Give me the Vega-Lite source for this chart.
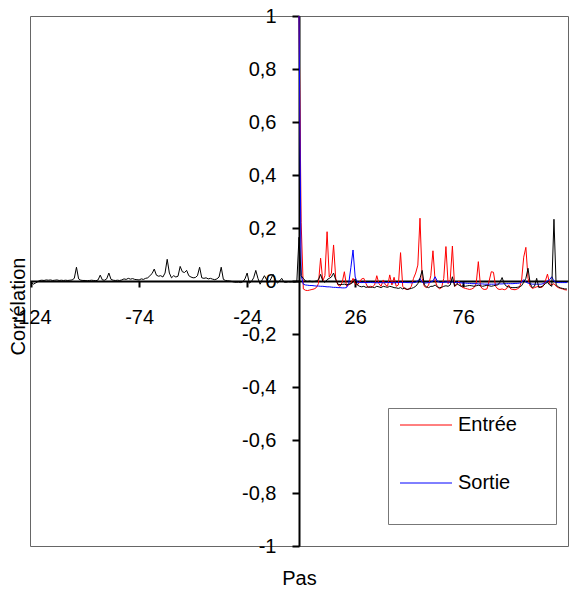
{
  "$schema": "https://vega.github.io/schema/vega-lite/v6.json",
  "width": 538,
  "height": 530,
  "autosize": "none",
  "padding": {"left": 30, "top": 16, "right": 5, "bottom": 49},
  "config": {
    "locale": {"number": {"decimal": ",", "thousands": " ", "grouping": [3], "currency": ["", " €"], "minus": "-"}},
    "view": {"stroke": "#666666", "strokeWidth": 1},
    "font": "Liberation Sans",
    "axis": {"labelFont": "Liberation Sans", "titleFont": "Liberation Sans", "labelFontSize": 20, "titleFontSize": 20, "titleFontWeight": "normal", "labelColor": "#000000", "titleColor": "#000000", "grid": false, "domainColor": "#000000", "domainWidth": 2, "tickColor": "#000000", "tickWidth": 2}
  },
  "datasets": {
    "cross": [
      {"lag": -124, "r": -0.005}, {"lag": -123, "r": -0.012}, {"lag": -122, "r": -0.008}, {"lag": -121, "r": -0.003},
      {"lag": -120, "r": 0.002}, {"lag": -119, "r": 0.003}, {"lag": -118, "r": 0.002}, {"lag": -117, "r": 0.004},
      {"lag": -116, "r": 0.003}, {"lag": -115, "r": 0.004}, {"lag": -114, "r": 0.002}, {"lag": -113, "r": 0.003},
      {"lag": -112, "r": 0.004}, {"lag": -111, "r": 0.002}, {"lag": -110, "r": 0.003}, {"lag": -109, "r": 0.002},
      {"lag": -108, "r": 0.003}, {"lag": -107, "r": 0.002}, {"lag": -106, "r": 0.003}, {"lag": -105, "r": 0.004},
      {"lag": -104, "r": 0.01}, {"lag": -103, "r": 0.052}, {"lag": -102, "r": 0.008}, {"lag": -101, "r": 0.003},
      {"lag": -100, "r": 0.002}, {"lag": -99, "r": 0.002}, {"lag": -98, "r": 0.001}, {"lag": -97, "r": 0.002},
      {"lag": -96, "r": 0.003}, {"lag": -95, "r": 0.002}, {"lag": -94, "r": 0.001}, {"lag": -93, "r": 0.004},
      {"lag": -92, "r": 0.022}, {"lag": -91, "r": 0.004}, {"lag": -90, "r": 0.003}, {"lag": -89, "r": 0.008},
      {"lag": -88, "r": 0.03}, {"lag": -87, "r": 0.006}, {"lag": -86, "r": 0.003}, {"lag": -85, "r": 0.002},
      {"lag": -84, "r": 0.003}, {"lag": -83, "r": 0.002}, {"lag": -82, "r": 0.004}, {"lag": -81, "r": 0.008},
      {"lag": -80, "r": 0.006}, {"lag": -79, "r": 0.01}, {"lag": -78, "r": 0.007}, {"lag": -77, "r": 0.009},
      {"lag": -76, "r": 0.006}, {"lag": -75, "r": 0.005}, {"lag": -74, "r": 0.004}, {"lag": -73, "r": 0.008},
      {"lag": -72, "r": 0.006}, {"lag": -71, "r": 0.01}, {"lag": -70, "r": 0.012}, {"lag": -69, "r": 0.02},
      {"lag": -68, "r": 0.028}, {"lag": -67, "r": 0.045}, {"lag": -66, "r": 0.022}, {"lag": -65, "r": 0.018},
      {"lag": -64, "r": 0.02}, {"lag": -63, "r": 0.015}, {"lag": -62, "r": 0.03}, {"lag": -61, "r": 0.082},
      {"lag": -60, "r": 0.03}, {"lag": -59, "r": 0.012}, {"lag": -58, "r": 0.02}, {"lag": -57, "r": 0.015},
      {"lag": -56, "r": 0.018}, {"lag": -55, "r": 0.055}, {"lag": -54, "r": 0.035}, {"lag": -53, "r": 0.032},
      {"lag": -52, "r": 0.04}, {"lag": -51, "r": 0.02}, {"lag": -50, "r": 0.015}, {"lag": -49, "r": 0.012},
      {"lag": -48, "r": 0.013}, {"lag": -47, "r": 0.02}, {"lag": -46, "r": 0.052}, {"lag": -45, "r": 0.012},
      {"lag": -44, "r": 0.01}, {"lag": -43, "r": 0.012}, {"lag": -42, "r": 0.008}, {"lag": -41, "r": 0.01},
      {"lag": -40, "r": 0.007}, {"lag": -39, "r": 0.005}, {"lag": -38, "r": 0.008}, {"lag": -37, "r": 0.015},
      {"lag": -36, "r": 0.052}, {"lag": -35, "r": 0.006}, {"lag": -34, "r": 0.002}, {"lag": -33, "r": 0.001},
      {"lag": -32, "r": 0.0}, {"lag": -31, "r": -0.002}, {"lag": -30, "r": -0.004}, {"lag": -29, "r": -0.005},
      {"lag": -28, "r": -0.004}, {"lag": -27, "r": -0.006}, {"lag": -26, "r": -0.003}, {"lag": -25, "r": 0.008},
      {"lag": -24, "r": 0.03}, {"lag": -23, "r": -0.008}, {"lag": -22, "r": -0.002}, {"lag": -21, "r": 0.012},
      {"lag": -20, "r": 0.04}, {"lag": -19, "r": 0.01}, {"lag": -18, "r": -0.012}, {"lag": -17, "r": 0.005},
      {"lag": -16, "r": 0.02}, {"lag": -15, "r": 0.005}, {"lag": -14, "r": -0.006}, {"lag": -13, "r": 0.008},
      {"lag": -12, "r": 0.025}, {"lag": -11, "r": 0.005}, {"lag": -10, "r": -0.008}, {"lag": -9, "r": 0.0},
      {"lag": -8, "r": 0.01}, {"lag": -7, "r": -0.004}, {"lag": -6, "r": -0.005}, {"lag": -5, "r": -0.003},
      {"lag": -4, "r": -0.004}, {"lag": -3, "r": -0.003}, {"lag": -2, "r": -0.004}, {"lag": -1, "r": -0.002},
      {"lag": 0, "r": 0.165}, {"lag": 1, "r": 0.02}, {"lag": 2, "r": 0.01}, {"lag": 3, "r": 0.0},
      {"lag": 4, "r": -0.002}, {"lag": 5, "r": 0.0}, {"lag": 6, "r": -0.003}, {"lag": 7, "r": -0.002},
      {"lag": 8, "r": 0.0}, {"lag": 9, "r": 0.005}, {"lag": 10, "r": 0.025}, {"lag": 11, "r": 0.0},
      {"lag": 12, "r": -0.005}, {"lag": 13, "r": 0.005}, {"lag": 14, "r": 0.01}, {"lag": 15, "r": 0.015},
      {"lag": 16, "r": 0.03}, {"lag": 17, "r": 0.005}, {"lag": 18, "r": -0.012}, {"lag": 19, "r": -0.014},
      {"lag": 20, "r": -0.013}, {"lag": 21, "r": -0.012}, {"lag": 22, "r": -0.014}, {"lag": 23, "r": -0.012},
      {"lag": 24, "r": -0.01}, {"lag": 25, "r": -0.005}, {"lag": 26, "r": 0.008}, {"lag": 27, "r": -0.015},
      {"lag": 28, "r": -0.02}, {"lag": 29, "r": -0.022}, {"lag": 30, "r": -0.02}, {"lag": 31, "r": -0.024},
      {"lag": 32, "r": -0.022}, {"lag": 33, "r": -0.024}, {"lag": 34, "r": -0.023}, {"lag": 35, "r": -0.025},
      {"lag": 36, "r": -0.02}, {"lag": 37, "r": -0.022}, {"lag": 38, "r": -0.025}, {"lag": 39, "r": -0.02},
      {"lag": 40, "r": -0.022}, {"lag": 41, "r": -0.024}, {"lag": 42, "r": -0.02}, {"lag": 43, "r": -0.022},
      {"lag": 44, "r": -0.025}, {"lag": 45, "r": -0.026}, {"lag": 46, "r": -0.028}, {"lag": 47, "r": -0.025},
      {"lag": 48, "r": -0.03}, {"lag": 49, "r": -0.026}, {"lag": 50, "r": -0.032}, {"lag": 51, "r": -0.03},
      {"lag": 52, "r": -0.028}, {"lag": 53, "r": -0.025}, {"lag": 54, "r": -0.02}, {"lag": 55, "r": -0.01},
      {"lag": 56, "r": 0.01}, {"lag": 57, "r": 0.04}, {"lag": 58, "r": -0.015}, {"lag": 59, "r": -0.022},
      {"lag": 60, "r": -0.025}, {"lag": 61, "r": -0.02}, {"lag": 62, "r": -0.02}, {"lag": 63, "r": -0.015},
      {"lag": 64, "r": -0.022}, {"lag": 65, "r": -0.025}, {"lag": 66, "r": -0.024}, {"lag": 67, "r": -0.02},
      {"lag": 68, "r": -0.018}, {"lag": 69, "r": -0.02}, {"lag": 70, "r": -0.015}, {"lag": 71, "r": 0.016},
      {"lag": 72, "r": -0.02}, {"lag": 73, "r": -0.01}, {"lag": 74, "r": -0.015}, {"lag": 75, "r": -0.02},
      {"lag": 76, "r": -0.018}, {"lag": 77, "r": -0.02}, {"lag": 78, "r": -0.018}, {"lag": 79, "r": -0.017},
      {"lag": 80, "r": -0.018}, {"lag": 81, "r": -0.02}, {"lag": 82, "r": -0.018}, {"lag": 83, "r": -0.016},
      {"lag": 84, "r": -0.018}, {"lag": 85, "r": -0.02}, {"lag": 86, "r": -0.018}, {"lag": 87, "r": -0.016},
      {"lag": 88, "r": -0.018}, {"lag": 89, "r": -0.02}, {"lag": 90, "r": -0.018}, {"lag": 91, "r": -0.016},
      {"lag": 92, "r": -0.015}, {"lag": 93, "r": -0.005}, {"lag": 94, "r": 0.013}, {"lag": 95, "r": -0.01},
      {"lag": 96, "r": -0.02}, {"lag": 97, "r": -0.022}, {"lag": 98, "r": -0.024}, {"lag": 99, "r": -0.025},
      {"lag": 100, "r": -0.025}, {"lag": 101, "r": -0.024}, {"lag": 102, "r": -0.022}, {"lag": 103, "r": -0.018},
      {"lag": 104, "r": -0.005}, {"lag": 105, "r": 0.01}, {"lag": 106, "r": 0.048}, {"lag": 107, "r": -0.01},
      {"lag": 108, "r": -0.025}, {"lag": 109, "r": -0.02}, {"lag": 110, "r": 0.01}, {"lag": 111, "r": -0.025},
      {"lag": 112, "r": -0.022}, {"lag": 113, "r": -0.018}, {"lag": 114, "r": -0.01}, {"lag": 115, "r": -0.005},
      {"lag": 116, "r": -0.015}, {"lag": 117, "r": -0.02}, {"lag": 118, "r": 0.233}, {"lag": 119, "r": -0.015},
      {"lag": 120, "r": -0.022}, {"lag": 121, "r": -0.026}, {"lag": 122, "r": -0.028}, {"lag": 123, "r": -0.03},
      {"lag": 124, "r": -0.03}
    ],
    "auto": [
      {"lag": 0, "Entrée": 1, "Sortie": 1}, {"lag": 1, "Entrée": 0.22, "Sortie": 0.02},
      {"lag": 2, "Entrée": -0.03, "Sortie": -0.012}, {"lag": 3, "Entrée": -0.035, "Sortie": -0.015},
      {"lag": 4, "Entrée": -0.036, "Sortie": -0.016}, {"lag": 5, "Entrée": -0.034, "Sortie": -0.017},
      {"lag": 6, "Entrée": -0.032, "Sortie": -0.017}, {"lag": 7, "Entrée": -0.03, "Sortie": -0.018},
      {"lag": 8, "Entrée": -0.025, "Sortie": -0.019}, {"lag": 9, "Entrée": -0.01, "Sortie": -0.019},
      {"lag": 10, "Entrée": 0.086, "Sortie": -0.02}, {"lag": 11, "Entrée": 0.0, "Sortie": -0.02},
      {"lag": 12, "Entrée": 0.02, "Sortie": -0.021}, {"lag": 13, "Entrée": 0.186, "Sortie": -0.022},
      {"lag": 14, "Entrée": 0.015, "Sortie": -0.022}, {"lag": 15, "Entrée": 0.03, "Sortie": -0.023},
      {"lag": 16, "Entrée": 0.136, "Sortie": -0.024}, {"lag": 17, "Entrée": 0.01, "Sortie": -0.024},
      {"lag": 18, "Entrée": -0.015, "Sortie": -0.025}, {"lag": 19, "Entrée": -0.02, "Sortie": -0.025},
      {"lag": 20, "Entrée": -0.005, "Sortie": -0.026}, {"lag": 21, "Entrée": 0.035, "Sortie": -0.026},
      {"lag": 22, "Entrée": -0.02, "Sortie": -0.025}, {"lag": 23, "Entrée": -0.015, "Sortie": -0.01},
      {"lag": 24, "Entrée": -0.01, "Sortie": 0.05}, {"lag": 25, "Entrée": 0.01, "Sortie": 0.117},
      {"lag": 26, "Entrée": -0.01, "Sortie": 0.015}, {"lag": 27, "Entrée": -0.015, "Sortie": -0.005},
      {"lag": 28, "Entrée": -0.005, "Sortie": -0.005}, {"lag": 29, "Entrée": 0.008, "Sortie": -0.006},
      {"lag": 30, "Entrée": 0.01, "Sortie": -0.005}, {"lag": 31, "Entrée": -0.01, "Sortie": -0.006},
      {"lag": 32, "Entrée": -0.025, "Sortie": -0.006}, {"lag": 33, "Entrée": -0.02, "Sortie": -0.005},
      {"lag": 34, "Entrée": -0.022, "Sortie": -0.006}, {"lag": 35, "Entrée": -0.015, "Sortie": -0.006},
      {"lag": 36, "Entrée": 0.02, "Sortie": -0.007}, {"lag": 37, "Entrée": -0.01, "Sortie": -0.006},
      {"lag": 38, "Entrée": -0.02, "Sortie": -0.006}, {"lag": 39, "Entrée": 0.004, "Sortie": -0.007},
      {"lag": 40, "Entrée": -0.015, "Sortie": -0.006}, {"lag": 41, "Entrée": -0.02, "Sortie": -0.005},
      {"lag": 42, "Entrée": 0.023, "Sortie": -0.006}, {"lag": 43, "Entrée": -0.015, "Sortie": -0.006},
      {"lag": 44, "Entrée": 0.014, "Sortie": -0.007}, {"lag": 45, "Entrée": -0.02, "Sortie": -0.006},
      {"lag": 46, "Entrée": -0.015, "Sortie": -0.006}, {"lag": 47, "Entrée": 0.107, "Sortie": -0.005},
      {"lag": 48, "Entrée": -0.02, "Sortie": -0.006}, {"lag": 49, "Entrée": -0.03, "Sortie": -0.005},
      {"lag": 50, "Entrée": -0.032, "Sortie": -0.006}, {"lag": 51, "Entrée": -0.03, "Sortie": -0.006},
      {"lag": 52, "Entrée": -0.02, "Sortie": -0.007}, {"lag": 53, "Entrée": 0.01, "Sortie": -0.006},
      {"lag": 54, "Entrée": 0.03, "Sortie": -0.005}, {"lag": 55, "Entrée": 0.06, "Sortie": 0.0},
      {"lag": 56, "Entrée": 0.237, "Sortie": 0.01}, {"lag": 57, "Entrée": 0.01, "Sortie": -0.005},
      {"lag": 58, "Entrée": -0.02, "Sortie": -0.008}, {"lag": 59, "Entrée": -0.025, "Sortie": -0.007},
      {"lag": 60, "Entrée": -0.015, "Sortie": -0.006}, {"lag": 61, "Entrée": 0.02, "Sortie": -0.004},
      {"lag": 62, "Entrée": 0.114, "Sortie": 0.0}, {"lag": 63, "Entrée": 0.0, "Sortie": 0.016},
      {"lag": 64, "Entrée": -0.02, "Sortie": 0.0}, {"lag": 65, "Entrée": -0.03, "Sortie": -0.005},
      {"lag": 66, "Entrée": -0.025, "Sortie": -0.006}, {"lag": 67, "Entrée": 0.01, "Sortie": -0.005},
      {"lag": 68, "Entrée": 0.13, "Sortie": -0.004}, {"lag": 69, "Entrée": -0.01, "Sortie": -0.004},
      {"lag": 70, "Entrée": 0.005, "Sortie": -0.005}, {"lag": 71, "Entrée": 0.132, "Sortie": -0.004},
      {"lag": 72, "Entrée": -0.02, "Sortie": -0.006}, {"lag": 73, "Entrée": -0.015, "Sortie": -0.005},
      {"lag": 74, "Entrée": 0.0, "Sortie": -0.006}, {"lag": 75, "Entrée": -0.02, "Sortie": -0.007},
      {"lag": 76, "Entrée": -0.025, "Sortie": -0.008}, {"lag": 77, "Entrée": -0.028, "Sortie": -0.008},
      {"lag": 78, "Entrée": -0.03, "Sortie": -0.009}, {"lag": 79, "Entrée": -0.032, "Sortie": -0.009},
      {"lag": 80, "Entrée": -0.03, "Sortie": -0.01}, {"lag": 81, "Entrée": -0.025, "Sortie": -0.01},
      {"lag": 82, "Entrée": -0.01, "Sortie": -0.01}, {"lag": 83, "Entrée": 0.073, "Sortie": -0.011},
      {"lag": 84, "Entrée": -0.02, "Sortie": -0.011}, {"lag": 85, "Entrée": -0.03, "Sortie": -0.011},
      {"lag": 86, "Entrée": -0.032, "Sortie": -0.012}, {"lag": 87, "Entrée": -0.03, "Sortie": -0.012},
      {"lag": 88, "Entrée": 0.0, "Sortie": -0.012}, {"lag": 89, "Entrée": 0.035, "Sortie": -0.012},
      {"lag": 90, "Entrée": 0.033, "Sortie": -0.012}, {"lag": 91, "Entrée": -0.02, "Sortie": -0.012},
      {"lag": 92, "Entrée": -0.03, "Sortie": -0.011}, {"lag": 93, "Entrée": -0.032, "Sortie": -0.011},
      {"lag": 94, "Entrée": -0.03, "Sortie": -0.011}, {"lag": 95, "Entrée": -0.033, "Sortie": -0.01},
      {"lag": 96, "Entrée": -0.03, "Sortie": -0.01}, {"lag": 97, "Entrée": -0.015, "Sortie": -0.01},
      {"lag": 98, "Entrée": -0.03, "Sortie": -0.01}, {"lag": 99, "Entrée": -0.032, "Sortie": -0.01},
      {"lag": 100, "Entrée": -0.033, "Sortie": -0.009}, {"lag": 101, "Entrée": -0.03, "Sortie": -0.009},
      {"lag": 102, "Entrée": -0.025, "Sortie": -0.008}, {"lag": 103, "Entrée": 0.0, "Sortie": -0.005},
      {"lag": 104, "Entrée": 0.09, "Sortie": 0.005}, {"lag": 105, "Entrée": 0.127, "Sortie": -0.004},
      {"lag": 106, "Entrée": 0.01, "Sortie": -0.008}, {"lag": 107, "Entrée": -0.02, "Sortie": -0.01},
      {"lag": 108, "Entrée": -0.028, "Sortie": -0.012}, {"lag": 109, "Entrée": -0.025, "Sortie": -0.012},
      {"lag": 110, "Entrée": -0.022, "Sortie": -0.012}, {"lag": 111, "Entrée": -0.02, "Sortie": -0.012},
      {"lag": 112, "Entrée": -0.025, "Sortie": -0.012}, {"lag": 113, "Entrée": -0.02, "Sortie": -0.01},
      {"lag": 114, "Entrée": 0.0, "Sortie": -0.005}, {"lag": 115, "Entrée": 0.026, "Sortie": 0.0},
      {"lag": 116, "Entrée": -0.01, "Sortie": 0.005}, {"lag": 117, "Entrée": -0.015, "Sortie": 0.016},
      {"lag": 118, "Entrée": -0.01, "Sortie": 0.0}, {"lag": 119, "Entrée": -0.02, "Sortie": -0.005},
      {"lag": 120, "Entrée": -0.025, "Sortie": -0.006}, {"lag": 121, "Entrée": -0.028, "Sortie": -0.006},
      {"lag": 122, "Entrée": -0.03, "Sortie": -0.006}, {"lag": 123, "Entrée": -0.033, "Sortie": -0.006},
      {"lag": 124, "Entrée": -0.034, "Sortie": -0.006}
    ]
  },
  "encoding": {
    "x": {
      "field": "lag", "type": "quantitative",
      "scale": {"domain": [-124.5, 124.5], "nice": false, "zero": false},
      "axis": {"title": "Pas", "orient": "bottom", "offset": -265, "values": [-124, -74, -24, 26, 76], "format": "d", "tickSize": 6, "labelPadding": 20, "labelFlush": false, "labelOverlap": false, "titleX": 269, "titleY": 297, "titleAlign": "center", "titleBaseline": "middle"}
    },
    "y": {
      "field": "r", "type": "quantitative",
      "scale": {"domain": [-1, 1], "nice": false},
      "axis": {"title": "Corrélation", "orient": "left", "offset": -269, "values": [-1, -0.8, -0.6, -0.4, -0.2, 0, 0.2, 0.4, 0.6, 0.8, 1], "format": ".1~f", "tickSize": 7, "labelPadding": 16, "labelFlush": false, "labelOverlap": false, "titleX": -281, "titleY": 290, "titleAngle": -90, "titleAlign": "center", "titleBaseline": "middle"}
    }
  },
  "layer": [
    {
      "data": {"name": "auto"},
      "transform": [{"fold": ["Entrée", "Sortie"], "as": ["serie", "r"]}],
      "mark": {"type": "line", "strokeWidth": 1},
      "encoding": {
        "color": {
          "field": "serie", "type": "nominal",
          "scale": {"domain": ["Entrée", "Sortie"], "range": ["#ff0000", "#0000ff"]},
          "legend": {
            "title": null, "orient": "none", "legendX": 358, "legendY": 392,
            "symbolType": "M-5.2,0H5.2M0,6.4M24.2,0", "symbolSize": 100, "symbolStrokeWidth": 1,
            "symbolOffset": 21, "labelOffset": 22,
            "labelFont": "Liberation Sans", "labelFontSize": 20, "labelColor": "#000000",
            "strokeColor": "#777777", "fillColor": "#ffffff", "padding": 7, "rowPadding": 14,
            "encode": {"symbols": {"update": {"stroke": {"scale": "color", "field": "value"}, "fill": {"value": "transparent"}}}}
          }
        }
      }
    },
    {
      "data": {"name": "cross"},
      "mark": {"type": "line", "strokeWidth": 1, "color": "#000000"}
    }
  ]
}
